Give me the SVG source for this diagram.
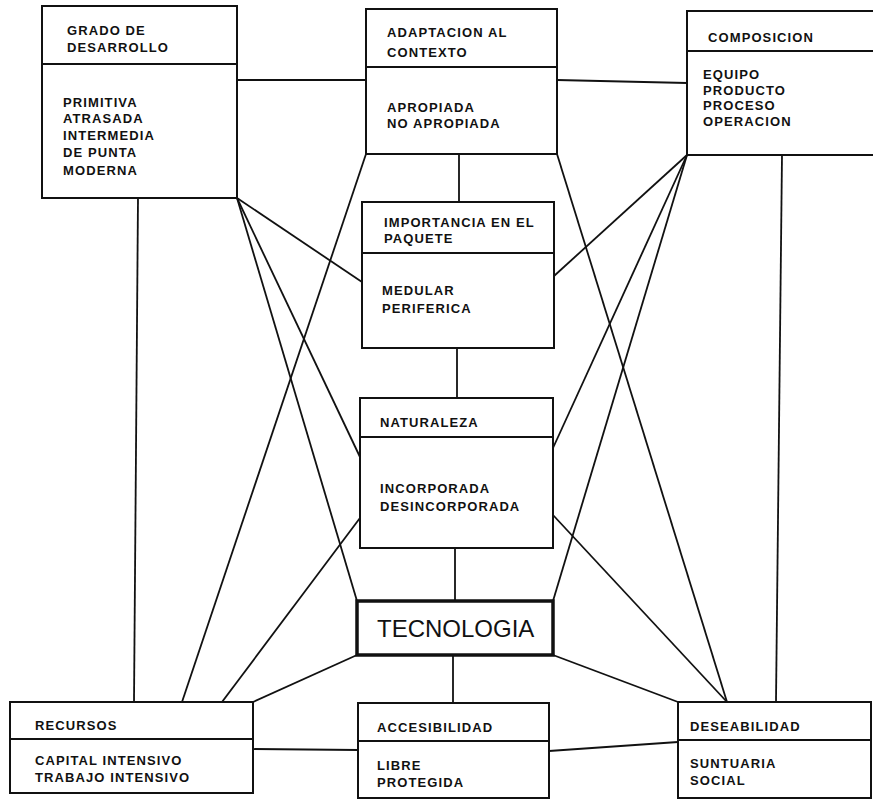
<svg xmlns="http://www.w3.org/2000/svg" width="873" height="801" viewBox="0 0 873 801">
<style>
.box{fill:#fff;stroke:#111;stroke-width:2}
.div{stroke:#111;stroke-width:1.8}
.t{font-family:"Liberation Sans",Arial,sans-serif;font-weight:bold;font-size:13px;letter-spacing:1.1px;fill:#111}
.big{font-family:"Liberation Sans",Arial,sans-serif;font-size:24px;fill:#111}
.c line{stroke:#111;stroke-width:1.8;fill:none}
</style>
<rect width="873" height="801" fill="#fff"/>
<g class="c" id="connectors">
<line x1="237" y1="80" x2="366" y2="80"/>
<line x1="557" y1="80" x2="687" y2="83"/>
<line x1="459" y1="154" x2="459" y2="202"/>
<line x1="457" y1="348" x2="457" y2="398"/>
<line x1="455" y1="548" x2="455" y2="601"/>
<line x1="453" y1="655" x2="453" y2="703"/>
<line x1="253" y1="749" x2="358" y2="750"/>
<line x1="549" y1="751" x2="678" y2="742"/>
<line x1="138" y1="198" x2="134" y2="702"/>
<line x1="782" y1="155" x2="776" y2="702"/>
<line x1="237" y1="198" x2="362" y2="282"/>
<line x1="237" y1="198" x2="360" y2="457"/>
<line x1="237" y1="198" x2="357" y2="601"/>
<line x1="687" y1="155" x2="554" y2="276"/>
<line x1="687" y1="155" x2="553" y2="448"/>
<line x1="687" y1="155" x2="553" y2="601"/>
<line x1="366" y1="154" x2="182" y2="702"/>
<line x1="557" y1="154" x2="727" y2="702"/>
<line x1="360" y1="518" x2="222" y2="702"/>
<line x1="553" y1="515" x2="727" y2="702"/>
<line x1="357" y1="655" x2="253" y2="702"/>
<line x1="553" y1="655" x2="678" y2="702"/>
</g>
<g id="grado">
<rect class="box" x="42" y="6" width="195" height="192"/>
<line class="div" x1="42" y1="64" x2="237" y2="64"/>
<text class="t" x="67" y="35">GRADO DE</text>
<text class="t" x="67" y="52">DESARROLLO</text>
<text class="t" x="63" y="107">PRIMITIVA</text>
<text class="t" x="63" y="123">ATRASADA</text>
<text class="t" x="63" y="140">INTERMEDIA</text>
<text class="t" x="63" y="157">DE PUNTA</text>
<text class="t" x="63" y="175">MODERNA</text>
</g>
<g id="adaptacion">
<rect class="box" x="366" y="9" width="191" height="145"/>
<line class="div" x1="366" y1="67" x2="557" y2="67"/>
<text class="t" x="387" y="37">ADAPTACION AL</text>
<text class="t" x="387" y="57">CONTEXTO</text>
<text class="t" x="387" y="112">APROPIADA</text>
<text class="t" x="387" y="128">NO APROPIADA</text>
</g>
<g id="composicion">
<rect class="box" x="687" y="11" width="200" height="144"/>
<line class="div" x1="687" y1="51" x2="873" y2="51"/>
<text class="t" x="708" y="42">COMPOSICION</text>
<text class="t" x="703" y="79">EQUIPO</text>
<text class="t" x="703" y="95">PRODUCTO</text>
<text class="t" x="703" y="110">PROCESO</text>
<text class="t" x="703" y="126">OPERACION</text>
</g>
<g id="importancia">
<rect class="box" x="362" y="202" width="192" height="146"/>
<line class="div" x1="362" y1="253" x2="554" y2="253"/>
<text class="t" x="384" y="227">IMPORTANCIA EN EL</text>
<text class="t" x="384" y="243">PAQUETE</text>
<text class="t" x="382" y="295">MEDULAR</text>
<text class="t" x="382" y="313">PERIFERICA</text>
</g>
<g id="naturaleza">
<rect class="box" x="360" y="398" width="193" height="150"/>
<line class="div" x1="360" y1="437" x2="553" y2="437"/>
<text class="t" x="380" y="427">NATURALEZA</text>
<text class="t" x="380" y="493">INCORPORADA</text>
<text class="t" x="380" y="511">DESINCORPORADA</text>
</g>
<g id="tecnologia">
<rect x="357" y="601" width="196" height="54" fill="#fff" stroke="#111" stroke-width="3.5"/>
<text class="big" x="377" y="637">TECNOLOGIA</text>
</g>
<g id="recursos">
<rect class="box" x="10" y="702" width="243" height="91"/>
<line class="div" x1="10" y1="739" x2="253" y2="739"/>
<text class="t" x="35" y="730">RECURSOS</text>
<text class="t" x="35" y="765">CAPITAL INTENSIVO</text>
<text class="t" x="35" y="782">TRABAJO INTENSIVO</text>
</g>
<g id="accesibilidad">
<rect class="box" x="358" y="703" width="191" height="95"/>
<line class="div" x1="358" y1="741" x2="549" y2="741"/>
<text class="t" x="377" y="732">ACCESIBILIDAD</text>
<text class="t" x="377" y="770">LIBRE</text>
<text class="t" x="377" y="787">PROTEGIDA</text>
</g>
<g id="deseabilidad">
<rect class="box" x="678" y="702" width="193" height="96"/>
<line class="div" x1="678" y1="740" x2="871" y2="740"/>
<text class="t" x="690" y="731">DESEABILIDAD</text>
<text class="t" x="690" y="768">SUNTUARIA</text>
<text class="t" x="690" y="785">SOCIAL</text>
</g>
</svg>
